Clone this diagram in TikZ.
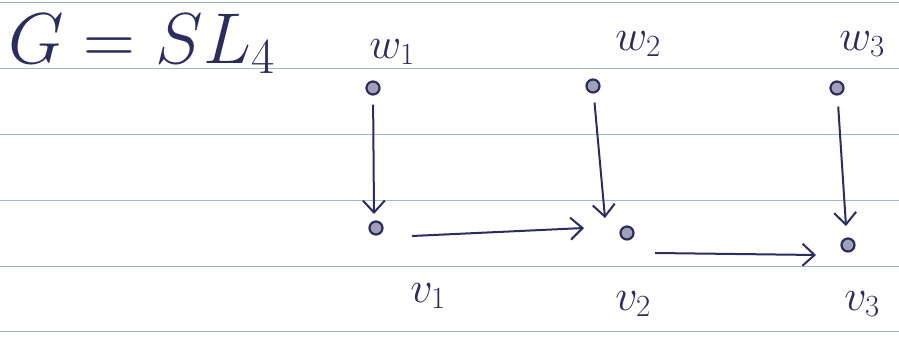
\RequirePackage{fix-cm}
\documentclass[tikz,border=0pt]{standalone}
\usetikzlibrary{arrows.meta}
\definecolor{ink}{HTML}{2C2C5E}
\definecolor{rule}{HTML}{9DB6D2}
\begin{document}
\begin{tikzpicture}[x=1pt,y=-1pt,
  dot/.style={circle,draw=ink,fill=ink!45,line width=2.2pt,inner sep=0pt,minimum size=13pt},
  lbl/.style={text=ink,font=\fontsize{44}{44}\selectfont,inner sep=0pt},
  arr/.style={draw=ink,line width=2pt,-{Straight Barb[length=12pt,width=22pt,line width=2pt]}}]
\useasboundingbox (0,0) rectangle (899,339);
\fill[white] (0,0) rectangle (899,339);
\foreach \y in {2,68,134,200,266,331} \draw[rule,line width=0.9pt] (0,\y) -- (899,\y);
% title
\node[text=ink,inner sep=0pt,font=\fontsize{72}{72}\selectfont,anchor=west] (title) at (8,44) {$G = SL_4$};
% dots
\node[dot] (w1) at (373,88) {};
\node[dot] (w2) at (593,86) {};
\node[dot] (w3) at (837,88) {};
\node[dot] (v1) at (376,228) {};
\node[dot] (v2) at (627,233) {};
\node[dot] (v3) at (848,245) {};
% arrow end points
\coordinate (e1) at (374,214);
\coordinate (e2) at (605,218);
\coordinate (e3) at (846,226);
\coordinate (s12) at (412,236);
\coordinate (e12) at (584,228);
\coordinate (s23) at (655,253);
\coordinate (e23) at (816,255);
% labels
\node[lbl] (lw1) at (392,52) {$w_1$};
\node[lbl] (lw2) at (638,44) {$w_2$};
\node[lbl] (lw3) at (862,44) {$w_3$};
\node[lbl] (lv1) at (428,296) {$v_1$};
\node[lbl] (lv2) at (633,304) {$v_2$};
\node[lbl] (lv3) at (862,304) {$v_3$};
% arrows
\draw[arr,shorten <=9pt] (w1) -- (e1);
\draw[arr,shorten <=9pt] (w2) -- (e2);
\draw[arr,shorten <=11pt] (w3) -- (e3);
\draw[arr] (s12) -- (e12);
\draw[arr] (s23) -- (e23);
\end{tikzpicture}
\end{document}
